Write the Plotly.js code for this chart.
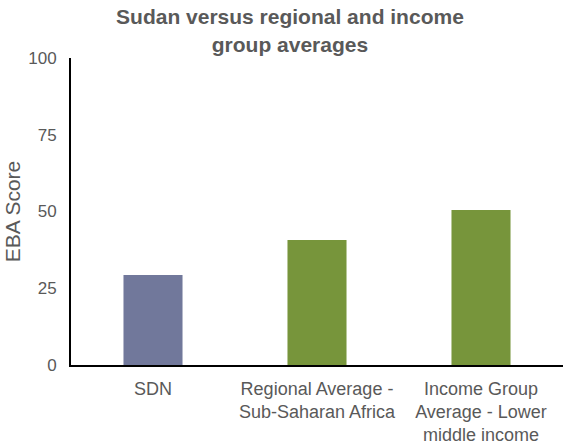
<!DOCTYPE html>
<html><head><meta charset="utf-8">
<script src="https://cdn.plot.ly/plotly-3.0.1.min.js"></script>
<style>html,body{margin:0;padding:0;background:#fff}#chart{width:563px;height:444px}</style>
</head><body><div id="chart"></div>
<script>
const categories = ["SDN", "Regional Average -<br>Sub-Saharan Africa", "Income Group<br>Average - Lower<br>middle income"];
const scores = [29.3, 40.7, 50.5];
const barColors = ["#71789b", "#77953b", "#77953b"];
const yTicks = [0, 25, 50, 75, 100];

Plotly.newPlot("chart", [{
  type: "bar", x: categories, y: scores,
  marker: {color: barColors}, width: 0.36, hoverinfo: "none"
}], {
  width: 563, height: 444,
  margin: {l: 71, r: 0, t: 58, b: 79},
  paper_bgcolor: "#fff", plot_bgcolor: "#fff",
  font: {family: "Liberation Sans, Arial, sans-serif", color: "#595959", size: 18},
  title: {text: "<b>Sudan versus regional and income<br>group averages</b>",
          x: 0.515, xanchor: "center", yref: "container", y: 0.945, yanchor: "middle",
          font: {size: 21, color: "#595959"}},
  xaxis: {showline: true, linecolor: "#000", linewidth: 2, showgrid: false,
          ticks: "", ticklabelstandoff: 6, tickfont: {size: 18, color: "#595959"}},
  yaxis: {range: [0, 100], tickvals: yTicks, showline: true, linecolor: "#000", linewidth: 2,
          showgrid: false, zeroline: false, ticks: "", ticklabelstandoff: 9,
          tickfont: {size: 17, color: "#595959"},
          title: {text: "EBA Score", font: {size: 21, color: "#595959"}, standoff: 2}},
  showlegend: false
}, {displayModeBar: false, staticPlot: true});
</script></body></html>
